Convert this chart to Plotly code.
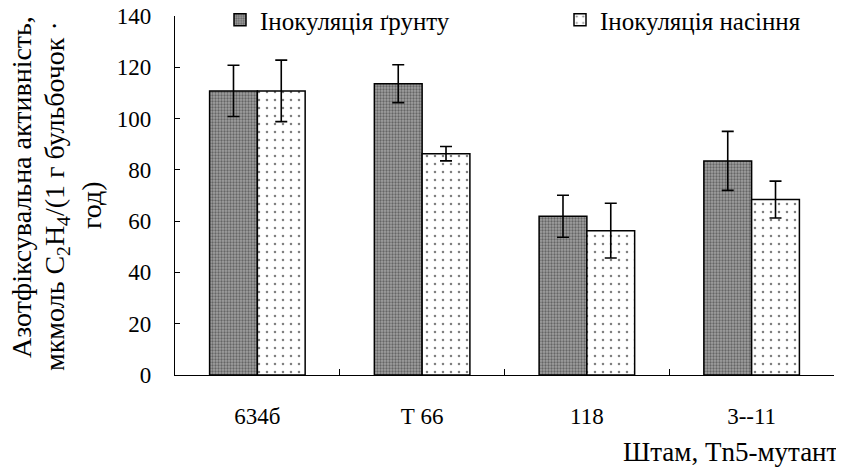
import plotly.graph_objects as go

categories = ["634б", "Т 66", "118", "3--11"]
soil_values = [110.8, 113.6, 61.9, 83.5]
soil_errors = [10.0, 7.4, 8.2, 11.5]
seed_values = [110.8, 86.3, 56.3, 68.4]
seed_errors = [12.0, 2.8, 10.7, 7.2]
series_names = ["Інокуляція ґрунту", "Інокуляція насіння"]
y_ticks = [0, 20, 40, 60, 80, 100, 120, 140]

FONT = "Liberation Serif"
W, H = 844, 468
L, R, T, B = 167, 18, 8, 101
pw = W - L - R
ph = H - T - B

fig = go.Figure()
fig.add_trace(go.Bar(
    x=categories, y=soil_values, name=series_names[0], legend="legend",
    marker=dict(color="#a0a0a0", line=dict(color="black", width=1.5),
                pattern=dict(shape=".", fgcolor="#2a2a2a", bgcolor="#a0a0a0", size=3, solidity=0.45)),
    error_y=dict(type="data", array=soil_errors, color="black", thickness=1.6, width=6),
))
fig.add_trace(go.Bar(
    x=categories, y=seed_values, name=series_names[1], legend="legend2",
    marker=dict(color="white", line=dict(color="black", width=1.5),
                pattern=dict(shape=".", fgcolor="black", bgcolor="white", size=8, solidity=0.08)),
    error_y=dict(type="data", array=seed_errors, color="black", thickness=1.6, width=6),
))

def px_x(p):
    return (p - L) / pw

def px_y(p):
    return (H - B - p) / ph

YT = 28
ann = []
ann.append(dict(text="Азотфіксувальна активність,", x=px_x(13), y=px_y(352), xref="paper", yref="paper",
                xanchor="center", yanchor="bottom", textangle=-90, showarrow=False,
                font=dict(family=FONT, size=YT, color="black")))
ann.append(dict(text="мкмоль C<sub>2</sub>H<sub>4</sub>/(1 г бульбочок ·", x=px_x(48), y=px_y(365),
                xref="paper", yref="paper", xanchor="center", yanchor="bottom", textangle=-90,
                showarrow=False, font=dict(family=FONT, size=YT, color="black")))
ann.append(dict(text="год)", x=px_x(83), y=px_y(197), xref="paper", yref="paper",
                xanchor="center", yanchor="middle", textangle=-90, showarrow=False,
                font=dict(family=FONT, size=YT, color="black")))
ann.append(dict(text="Штам, Tn5-мутант", x=px_x(833), y=px_y(444), xref="paper", yref="paper",
                xanchor="right", yanchor="middle", showarrow=False,
                font=dict(family=FONT, size=27, color="black")))

legend_common = dict(orientation="h", xanchor="left", yanchor="middle", itemwidth=30,
                     font=dict(family=FONT, size=25, color="black"), bgcolor="rgba(0,0,0,0)")

fig.update_layout(
    width=W, height=H,
    margin=dict(l=L, r=R, t=T, b=B, autoexpand=False),
    paper_bgcolor="white", plot_bgcolor="white",
    barmode="group", bargap=0.42, bargroupgap=0,
    font=dict(family=FONT, size=23, color="black"),
    showlegend=True,
    legend=dict(x=px_x(212), y=px_y(12), **legend_common),
    legend2=dict(x=px_x(552), y=px_y(12), **legend_common),
    annotations=ann,
    xaxis=dict(showline=True, linecolor="black", linewidth=1.2, ticks="inside", ticklen=6,
               tickcolor="black", tickson="boundaries", showgrid=False, zeroline=False,
               ticklabelstandoff=20, tickfont=dict(family=FONT, size=23)),
    yaxis=dict(range=[0, 140], tickvals=y_ticks, showline=True, linecolor="black", linewidth=1.2,
               ticks="inside", ticklen=5, tickcolor="black", showgrid=False, zeroline=False,
               ticklabeloverflow="allow",
               ticklabelstandoff=18, tickfont=dict(family=FONT, size=23)),
)

fig.write_html("out.html")
